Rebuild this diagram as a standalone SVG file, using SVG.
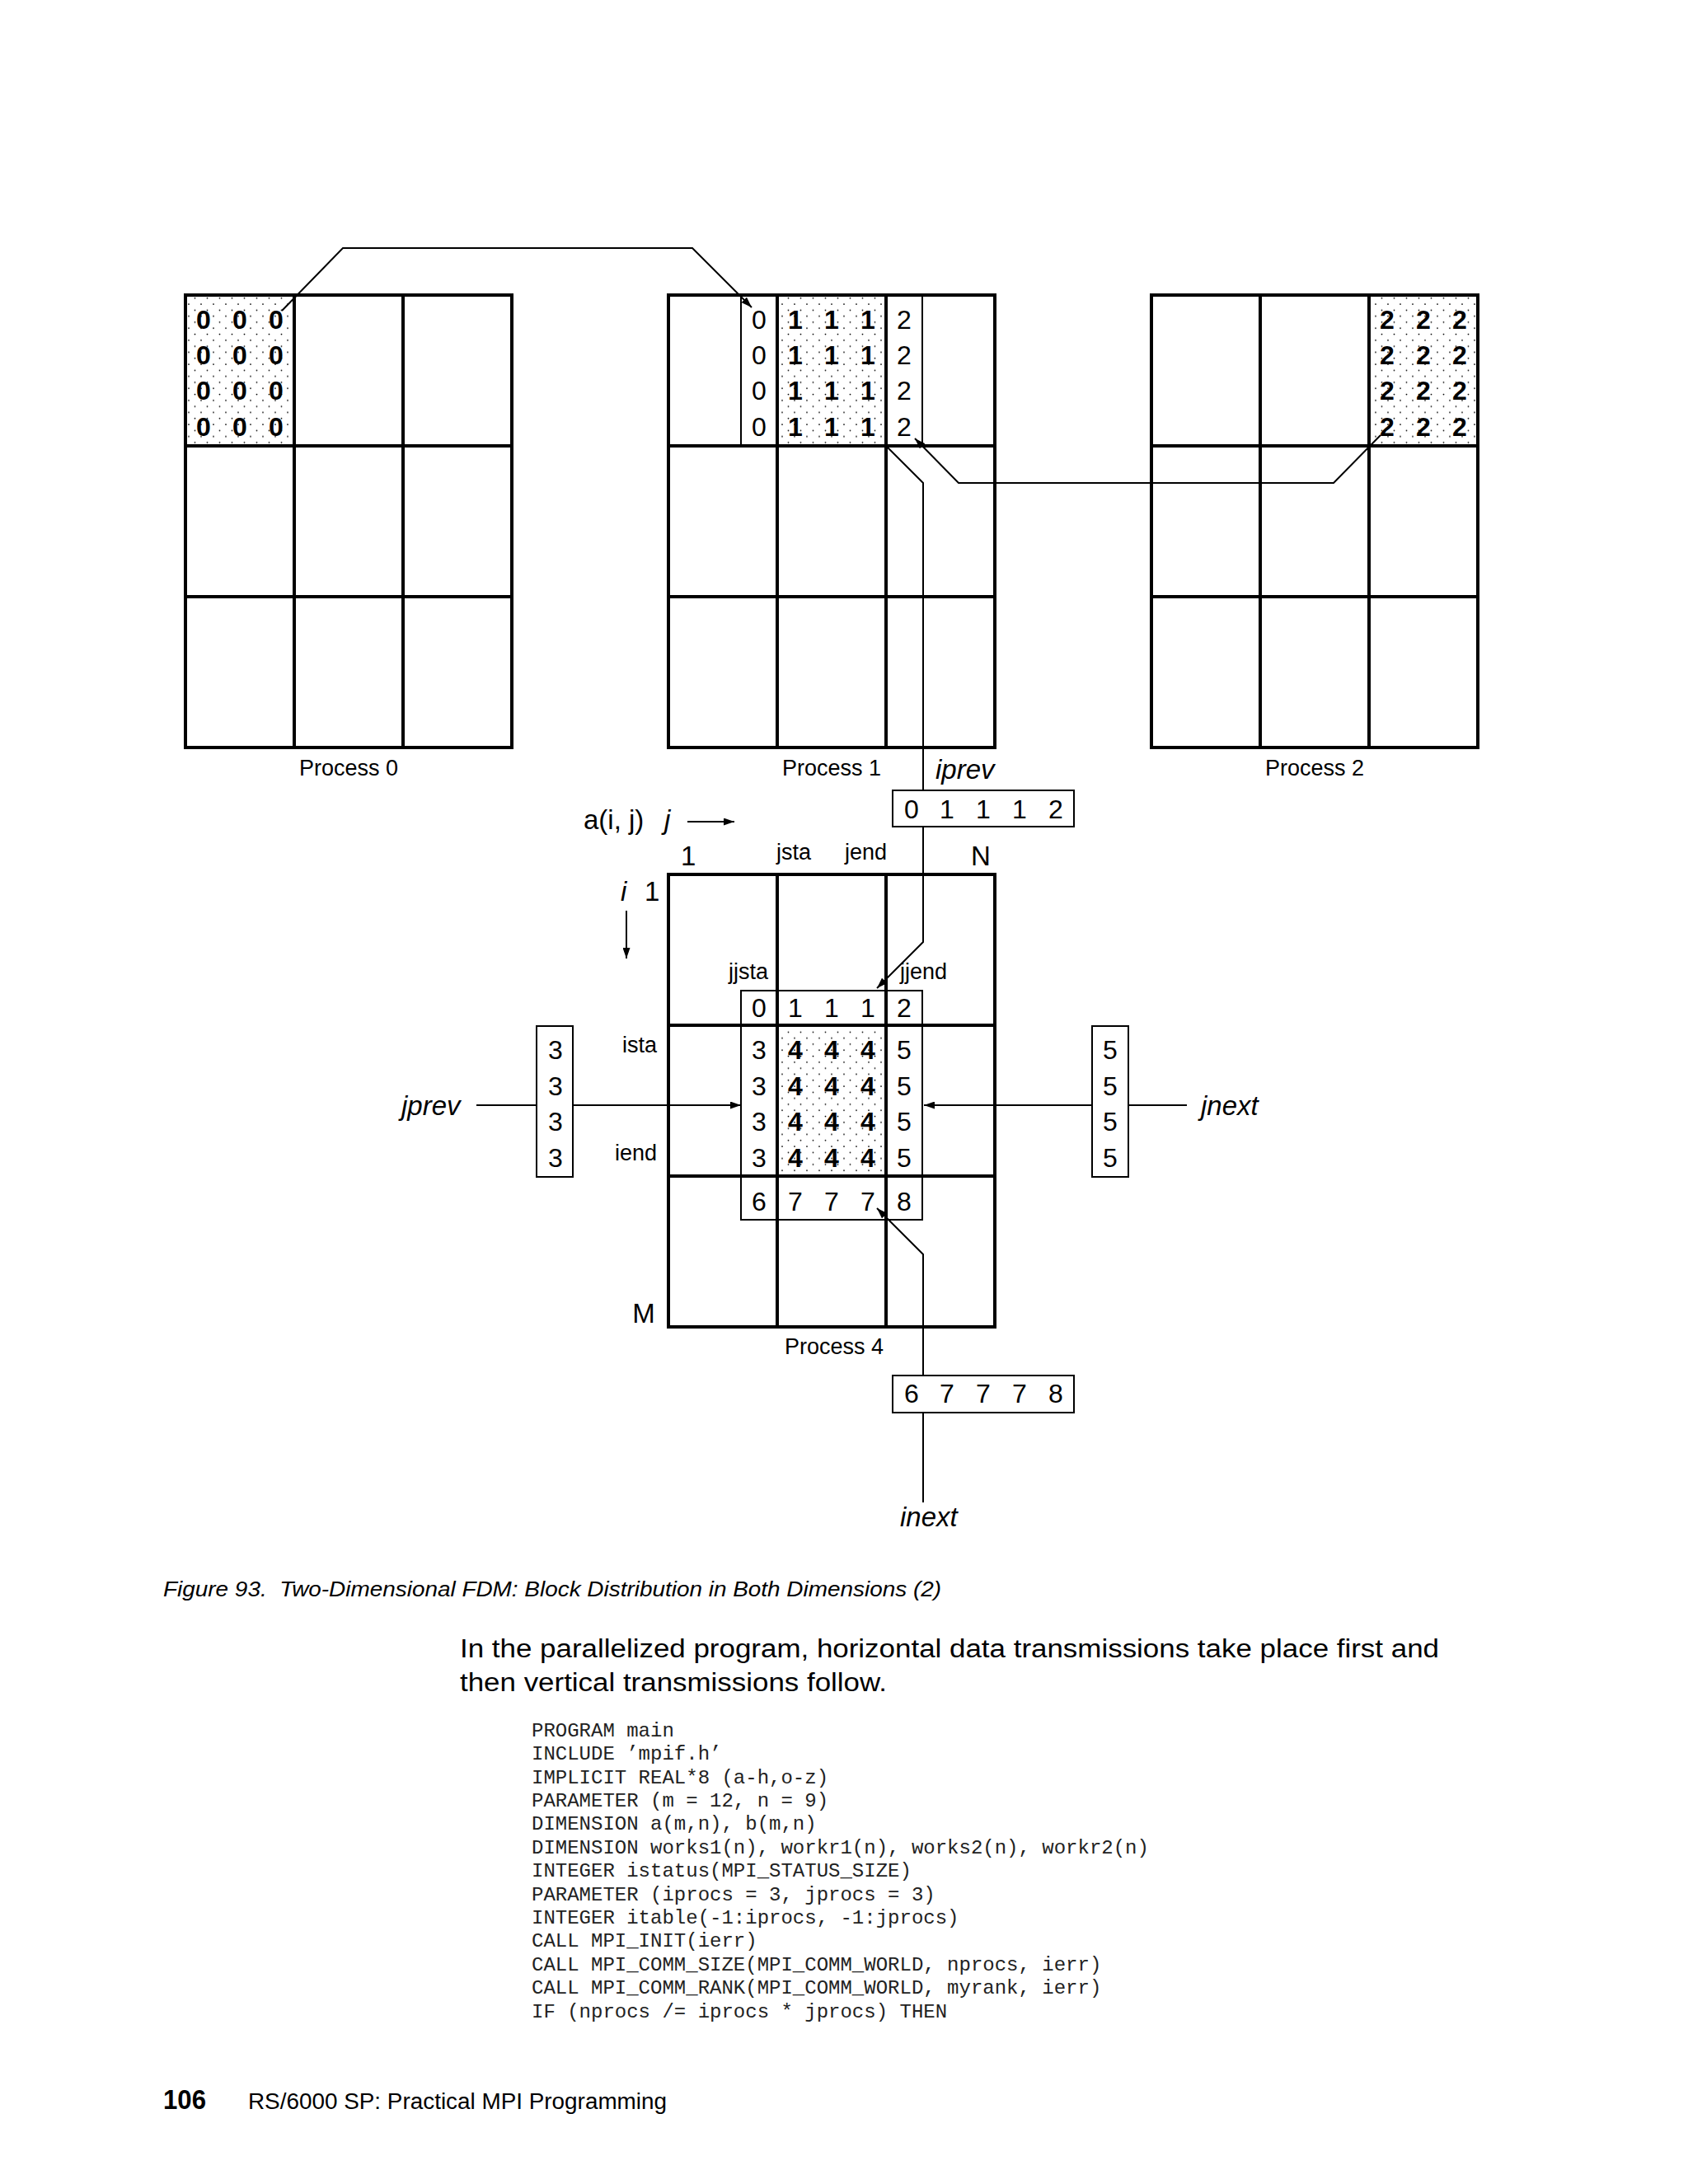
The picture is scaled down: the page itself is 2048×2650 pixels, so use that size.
<svg xmlns="http://www.w3.org/2000/svg" width="2048" height="2650" viewBox="0 0 2048 2650">
<style>
text{font-family:"Liberation Sans",Arial,sans-serif;fill:#000}
.grid{fill:none;stroke:#000;stroke-width:4}
.thin{fill:none;stroke:#000;stroke-width:2}
.box{fill:#fff;stroke:#000;stroke-width:2}
.conn{fill:none;stroke:#000;stroke-width:2}
.lbl{font-size:27px}
.num text{font-size:32px;text-anchor:middle}
.bnum text{font-size:32px;font-weight:bold;text-anchor:middle}
.it{font-size:33px;font-style:italic}
.big{font-size:33px}
.code text{font-family:"Liberation Mono","Courier New",monospace;font-size:24px;fill:#222}
</style>
<defs>
<pattern id="dots" patternUnits="userSpaceOnUse" width="15" height="14.6" x="2" y="2">
<circle cx="2" cy="2" r="0.9" fill="#000"/>
<circle cx="9.5" cy="9.3" r="0.9" fill="#000"/>
</pattern>
<marker id="arr" markerUnits="userSpaceOnUse" markerWidth="13" markerHeight="9" refX="13" refY="4.5" orient="auto">
<path d="M0,0 L13,4.5 L0,9 z" fill="#000"/>
</marker>
</defs>

<g id="process0">
<rect x="225" y="358" width="132" height="183" fill="url(#dots)"/>
<rect class="grid" x="225" y="358" width="396" height="549"/>
<path class="grid" d="M357,358V907M489,358V907M225,541H621M225,724H621"/>
<g class="bnum">
<text x="247" y="399">0</text><text x="291" y="399">0</text><text x="335" y="399">0</text>
<text x="247" y="442">0</text><text x="291" y="442">0</text><text x="335" y="442">0</text>
<text x="247" y="485">0</text><text x="291" y="485">0</text><text x="335" y="485">0</text>
<text x="247" y="529">0</text><text x="291" y="529">0</text><text x="335" y="529">0</text>
</g>
<text class="lbl" x="423" y="941" text-anchor="middle">Process 0</text>
</g>

<g id="process1">
<rect x="943" y="358" width="132" height="183" fill="url(#dots)"/>
<rect class="grid" x="811" y="358" width="396" height="549"/>
<path class="grid" d="M943,358V907M1075,358V907M811,541H1207M811,724H1207"/>
<path class="thin" d="M899,358V541M1119,358V541"/>
<g class="num">
<text x="921" y="399">0</text><text x="921" y="442">0</text><text x="921" y="485">0</text><text x="921" y="529">0</text>
<text x="1097" y="399">2</text><text x="1097" y="442">2</text><text x="1097" y="485">2</text><text x="1097" y="529">2</text>
</g>
<g class="bnum">
<text x="965" y="399">1</text><text x="1009" y="399">1</text><text x="1053" y="399">1</text>
<text x="965" y="442">1</text><text x="1009" y="442">1</text><text x="1053" y="442">1</text>
<text x="965" y="485">1</text><text x="1009" y="485">1</text><text x="1053" y="485">1</text>
<text x="965" y="529">1</text><text x="1009" y="529">1</text><text x="1053" y="529">1</text>
</g>
<text class="lbl" x="1009" y="941" text-anchor="middle">Process 1</text>
</g>

<g id="process2">
<rect x="1661" y="358" width="132" height="183" fill="url(#dots)"/>
<rect class="grid" x="1397" y="358" width="396" height="549"/>
<path class="grid" d="M1529,358V907M1661,358V907M1397,541H1793M1397,724H1793"/>
<g class="bnum">
<text x="1683" y="399">2</text><text x="1727" y="399">2</text><text x="1771" y="399">2</text>
<text x="1683" y="442">2</text><text x="1727" y="442">2</text><text x="1771" y="442">2</text>
<text x="1683" y="485">2</text><text x="1727" y="485">2</text><text x="1771" y="485">2</text>
<text x="1683" y="529">2</text><text x="1727" y="529">2</text><text x="1771" y="529">2</text>
</g>
<text class="lbl" x="1595" y="941" text-anchor="middle">Process 2</text>
</g>

<g id="process4">
<rect x="943" y="1244" width="132" height="183" fill="url(#dots)"/>
<rect class="grid" x="811" y="1061" width="396" height="549"/>
<path class="grid" d="M943,1061V1610M1075,1061V1610M811,1244H1207M811,1427H1207"/>
<rect class="thin" x="899" y="1202" width="220" height="278"/>
<g class="num">
<text x="921" y="1234">0</text><text x="965" y="1234">1</text><text x="1009" y="1234">1</text><text x="1053" y="1234">1</text><text x="1097" y="1234">2</text>
<text x="921" y="1285">3</text><text x="921" y="1329">3</text><text x="921" y="1372">3</text><text x="921" y="1416">3</text>
<text x="1097" y="1285">5</text><text x="1097" y="1329">5</text><text x="1097" y="1372">5</text><text x="1097" y="1416">5</text>
<text x="921" y="1469">6</text><text x="965" y="1469">7</text><text x="1009" y="1469">7</text><text x="1053" y="1469">7</text><text x="1097" y="1469">8</text>
</g>
<g class="bnum">
<text x="965" y="1285">4</text><text x="1009" y="1285">4</text><text x="1053" y="1285">4</text>
<text x="965" y="1329">4</text><text x="1009" y="1329">4</text><text x="1053" y="1329">4</text>
<text x="965" y="1372">4</text><text x="1009" y="1372">4</text><text x="1053" y="1372">4</text>
<text x="965" y="1416">4</text><text x="1009" y="1416">4</text><text x="1053" y="1416">4</text>
</g>
<text class="lbl" x="1012" y="1643" text-anchor="middle">Process 4</text>
</g>

<g id="connectors">
<path class="conn" d="M342,377 L416,301 L840,301 L912,373" marker-end="url(#arr)"/>
<path class="conn" d="M1675,528 L1618,586 L1163,586 L1110,532" marker-end="url(#arr)"/>
<path class="conn" d="M1077,543 L1120,586 L1120,1143 L1064,1199" marker-end="url(#arr)"/>
<path class="conn" d="M1120,1823 L1120,1522 L1064,1466" marker-end="url(#arr)"/>
<path class="conn" d="M578,1341 L899,1341" marker-end="url(#arr)"/>
<path class="conn" d="M1440,1341 L1121,1341" marker-end="url(#arr)"/>
<path class="conn" d="M834,997 L891,997" marker-end="url(#arr)"/>
<path class="conn" d="M760,1105 L760,1163" marker-end="url(#arr)"/>
</g>

<g id="iprev-buffer">
<rect class="box" x="1083" y="959" width="220" height="44"/>
<g class="num">
<text x="1106" y="993">0</text><text x="1149" y="993">1</text><text x="1193" y="993">1</text><text x="1237" y="993">1</text><text x="1281" y="993">2</text>
</g>
<text class="it" x="1135" y="945">iprev</text>
</g>

<g id="inext-buffer">
<rect class="box" x="1083" y="1669" width="220" height="45"/>
<g class="num">
<text x="1106" y="1702">6</text><text x="1149" y="1702">7</text><text x="1193" y="1702">7</text><text x="1237" y="1702">7</text><text x="1281" y="1702">8</text>
</g>
<text class="it" x="1092" y="1852">inext</text>
</g>

<g id="jprev-buffer">
<rect class="box" x="651" y="1245" width="44" height="183"/>
<g class="num">
<text x="674" y="1285">3</text><text x="674" y="1329">3</text><text x="674" y="1372">3</text><text x="674" y="1416">3</text>
</g>
<text class="it" x="487" y="1353">jprev</text>
</g>

<g id="jnext-buffer">
<rect class="box" x="1325" y="1245" width="44" height="183"/>
<g class="num">
<text x="1347" y="1285">5</text><text x="1347" y="1329">5</text><text x="1347" y="1372">5</text><text x="1347" y="1416">5</text>
</g>
<text class="it" x="1457" y="1353">jnext</text>
</g>

<g id="axis-labels">
<text class="big" x="708" y="1006">a(i, j)</text>
<text class="it" x="806" y="1006">j</text>
<text class="big" x="826" y="1050">1</text>
<text class="big" x="1178" y="1050">N</text>
<text class="lbl" x="942" y="1043">jsta</text>
<text class="lbl" x="1025" y="1043">jend</text>
<text class="it" x="753" y="1093">i</text>
<text class="big" x="782" y="1093">1</text>
<text class="lbl" x="884" y="1188">jjsta</text>
<text class="lbl" x="1092" y="1188">jjend</text>
<text class="lbl" x="797" y="1277" text-anchor="end">ista</text>
<text class="lbl" x="797" y="1408" text-anchor="end">iend</text>
<text class="big" x="781" y="1605" text-anchor="middle">M</text>
</g>

<g id="page-text">
<text x="198" y="1937" font-size="25" font-style="italic" textLength="944" lengthAdjust="spacingAndGlyphs" xml:space="preserve">Figure 93.  Two-Dimensional FDM: Block Distribution in Both Dimensions (2)</text>
<text x="558" y="2011" font-size="31" textLength="1188" lengthAdjust="spacingAndGlyphs">In the parallelized program, horizontal data transmissions take place first and</text>
<text x="558" y="2052" font-size="31" textLength="518" lengthAdjust="spacingAndGlyphs">then vertical transmissions follow.</text>
<g class="code">
<text x="645" y="2107">PROGRAM main</text>
<text x="645" y="2135">INCLUDE ’mpif.h’</text>
<text x="645" y="2164">IMPLICIT REAL*8 (a-h,o-z)</text>
<text x="645" y="2192">PARAMETER (m = 12, n = 9)</text>
<text x="645" y="2220">DIMENSION a(m,n), b(m,n)</text>
<text x="645" y="2249">DIMENSION works1(n), workr1(n), works2(n), workr2(n)</text>
<text x="645" y="2277">INTEGER istatus(MPI_STATUS_SIZE)</text>
<text x="645" y="2306">PARAMETER (iprocs = 3, jprocs = 3)</text>
<text x="645" y="2334">INTEGER itable(-1:iprocs, -1:jprocs)</text>
<text x="645" y="2362">CALL MPI_INIT(ierr)</text>
<text x="645" y="2391">CALL MPI_COMM_SIZE(MPI_COMM_WORLD, nprocs, ierr)</text>
<text x="645" y="2419">CALL MPI_COMM_RANK(MPI_COMM_WORLD, myrank, ierr)</text>
<text x="645" y="2448">IF (nprocs /= iprocs * jprocs) THEN</text>
</g>
<text x="198" y="2559" font-size="33" font-weight="bold" textLength="52" lengthAdjust="spacingAndGlyphs">106</text>
<text x="301" y="2559" font-size="27" textLength="508" lengthAdjust="spacingAndGlyphs">RS/6000 SP: Practical MPI Programming</text>
</g>
</svg>
